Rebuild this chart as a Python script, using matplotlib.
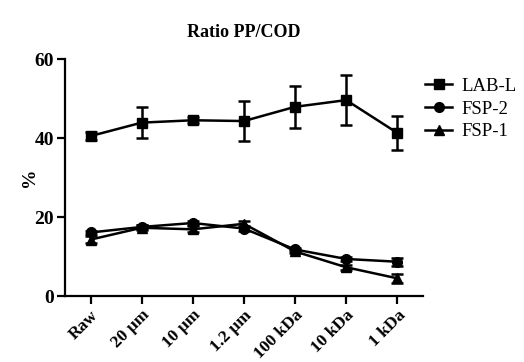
import matplotlib
matplotlib.use('Agg')
import matplotlib.pyplot as plt
from matplotlib.lines import Line2D

plt.rcParams['font.family'] = ['Liberation Serif', 'DejaVu Serif']

categories = ['Raw', '20 \u00b5m', '10 \u00b5m', '1.2 \u00b5m', '100 kDa', '10 kDa', '1 kDa']

lab_l = [40.5, 43.9, 44.5, 44.3, 47.9, 49.6, 41.3]
lab_l_err = [1.0, 4.0, 0.8, 5.0, 5.3, 6.4, 4.3]

fsp_2 = [16.1, 17.5, 18.5, 17.1, 11.8, 9.4, 8.7]
fsp_2_err = [0.5, 0.6, 0.5, 0.5, 0.5, 0.5, 1.0]

fsp_1 = [14.3, 17.3, 16.9, 18.3, 11.3, 7.3, 4.5]
fsp_1_err = [0.8, 0.6, 0.8, 0.6, 0.5, 0.6, 1.2]

series = [('LAB-L', 's', lab_l, lab_l_err),
          ('FSP-2', 'o', fsp_2, fsp_2_err),
          ('FSP-1', '^', fsp_1, fsp_1_err)]

x = list(range(len(categories)))

fig = plt.figure(figsize=(5.24, 3.62), dpi=100)
ax = fig.add_axes([0.124, 0.182, 0.683, 0.655])

handles = []
for name, mk, vals, errs in series:
    ax.errorbar(x, vals, yerr=errs, marker=mk, ms=7, color='black', lw=1.8,
                capsize=4, capthick=1.8, elinewidth=1.8)
    handles.append(Line2D([], [], color='black', lw=1.8, marker=mk, ms=7, label=name))

ax.set_xlim(-0.5, 6.5)
ax.set_ylim(0, 60)
ax.set_yticks([0, 20, 40, 60])
ax.set_xticks(x)
ax.set_xticklabels(categories, rotation=45, ha='right', rotation_mode='anchor',
                   fontsize=12.5, fontweight='bold')
for lab in ax.get_yticklabels():
    lab.set_fontsize(14)
    lab.set_fontweight('bold')

ax.spines['top'].set_visible(False)
ax.spines['right'].set_visible(False)
ax.spines['left'].set_linewidth(1.6)
ax.spines['bottom'].set_linewidth(1.6)
ax.tick_params(axis='both', direction='out', width=1.6, length=6, pad=2)

ax.set_ylabel('%', fontsize=14, fontweight='bold')
ax.yaxis.set_label_coords(-0.075, 0.5)
ax.set_title('Ratio PP/COD', fontsize=13, fontweight='bold', pad=16)

fig.legend(handles=handles, loc='upper left', bbox_to_anchor=(0.812, 0.785),
           frameon=False, fontsize=13.5, handlelength=1.4, labelspacing=0.3,
           handletextpad=0.5, borderpad=0, borderaxespad=0)

fig.savefig('out.png', dpi=100)
